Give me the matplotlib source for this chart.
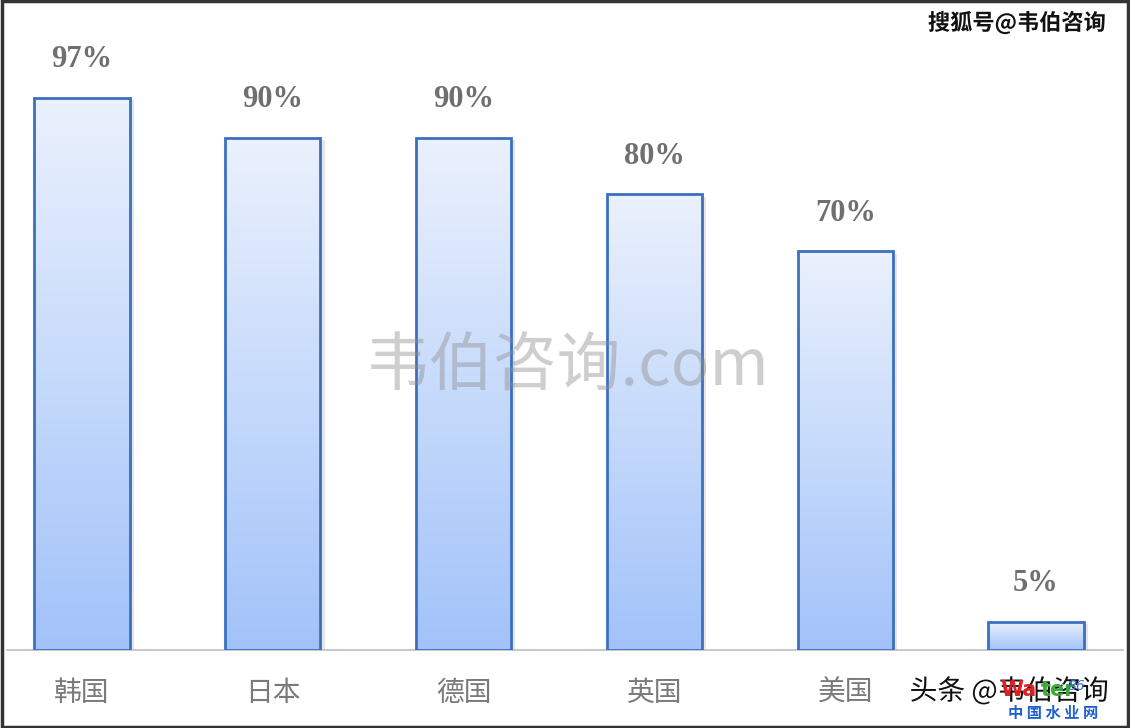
import numpy as np
import matplotlib
matplotlib.use("Agg")
import matplotlib.pyplot as plt
import matplotlib.patheffects as pe
from matplotlib.colors import LinearSegmentedColormap
from matplotlib.patches import Rectangle

plt.rcParams['font.family'] = ['Noto Sans CJK SC', 'DejaVu Sans']

# Data
categories = ["韩国", "日本", "德国", "英国", "美国", "中国"]
tick_labels = ["韩国", "日本", "德国", "英国", "美国", ""]
values = [97, 90, 90, 80, 70, 5]
value_labels = ["97%", "90%", "90%", "80%", "70%", "5%"]

fig = plt.figure(figsize=(11.30, 7.28), dpi=100)
fig.patch.set_facecolor("white")
ax = fig.add_axes([0.006, 0.1071, 0.988, 0.88])
ax.set_facecolor("none")

x = np.arange(len(categories))
bar_w = 0.50

# soft shadow under each bar
ax.bar(x, values, width=bar_w, color="white", edgecolor="none", zorder=1,
       path_effects=[pe.SimplePatchShadow(offset=(3, -2), shadow_rgbFace="#9a9a9a", alpha=0.25),
                     pe.Normal()])

# outlined bars; gradient fill is clipped to each bar shape
bars = ax.bar(x, values, width=bar_w, facecolor="none", edgecolor="#3c70bf",
              linewidth=2.0, zorder=3)

cmap = LinearSegmentedColormap.from_list("bluefade", ["#a2c2f9", "#c6dafb", "#ebf1fd"])
grad = np.linspace(0, 1, 256).reshape(-1, 1)
for b in bars:
    x0, w, h = b.get_x(), b.get_width(), b.get_height()
    im = ax.imshow(grad, cmap=cmap, aspect="auto", origin="lower",
                   extent=[x0, x0 + w, 0, h], zorder=2, interpolation="bicubic")
    im.set_clip_path(b)

# value labels above bars
for b, lab in zip(bars, value_labels):
    ax.annotate(lab, xy=(b.get_x() + b.get_width() / 2, b.get_height()),
                xytext=(0, 17), textcoords="offset points", ha="center", va="bottom",
                fontsize=22, fontweight="bold", color="#6f6f6f",
                family=["Liberation Serif", "DejaVu Serif"])

ax.set_xlim(-0.394, 5.457)
ax.set_ylim(0, 112.5)
ax.set_xticks(x)
ax.set_xticklabels(tick_labels, fontsize=20, color="#7a7a7a")
ax.tick_params(axis="x", length=0, pad=20)
ax.set_yticks([])
for s in ["top", "right", "left"]:
    ax.spines[s].set_visible(False)
ax.spines["bottom"].set_color("#c4c4c4")
ax.spines["bottom"].set_linewidth(1.3)

# site watermarks
fig.text(0.502, 0.495, "韦伯咨询.com", ha="center", va="center", fontsize=46,
         color="#8c8c8c", alpha=0.42, zorder=10)
outline = [pe.withStroke(linewidth=3, foreground="white")]
fig.text(0.900, 0.968, "搜狐号@韦伯咨询", ha="center", va="center", fontsize=16,
         fontweight="bold", color="#111111", zorder=10, path_effects=outline)
fig.text(0.893, 0.050, "头条 @韦伯咨询", ha="center", va="center", fontsize=20,
         color="#111111", zorder=10, path_effects=outline)
fig.text(0.885, 0.052, "Wa", ha="left", va="center", fontsize=15, fontweight="bold",
         color="#e02020", zorder=11, family=["DejaVu Sans"])
fig.text(0.921, 0.052, "ter", ha="left", va="center", fontsize=15, fontweight="bold",
         color="#3aa83a", zorder=11, family=["DejaVu Sans"])
fig.text(0.945, 0.058, "86", ha="left", va="center", fontsize=10, fontstyle="italic",
         color="#3a6fd0", zorder=11, family=["DejaVu Sans"])
fig.text(0.932, 0.020, "中 国 水 业 网", ha="center", va="center", fontsize=11,
         fontweight="bold", color="#1f5fd0", zorder=11)

# dark frame around the figure
fig.patches.append(Rectangle((0.0015, 0.002), 0.997, 0.996, transform=fig.transFigure,
                             fill=False, edgecolor="#333333", linewidth=2.5, zorder=20))

fig.savefig("out.png", dpi=100, facecolor="white")
